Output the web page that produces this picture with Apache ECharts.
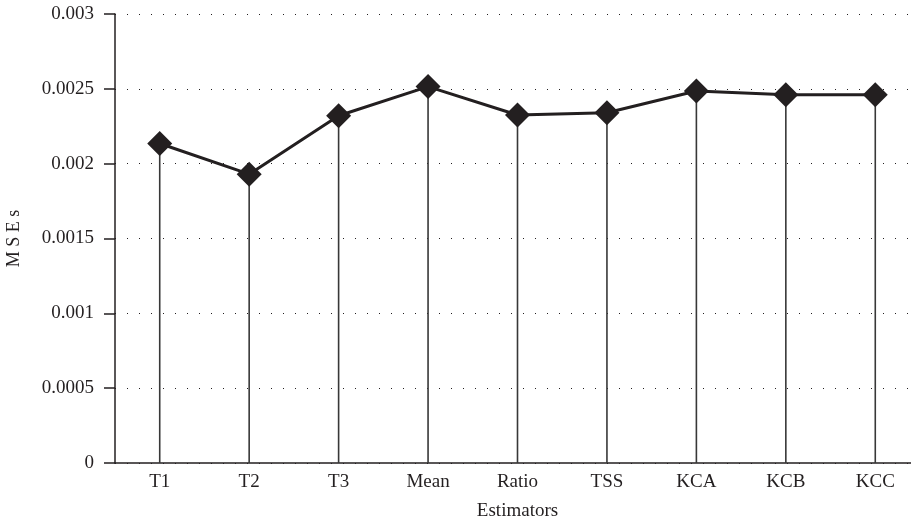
<!DOCTYPE html>
<html>
<head>
<meta charset="utf-8">
<script src="https://cdn.jsdelivr.net/npm/echarts@6/dist/echarts.min.js"></script>
<style>
html,body{margin:0;padding:0;background:#fff;}
#chart{width:911px;height:521px;}
</style>
</head>
<body>
<div id="chart"></div>
<script>
const categories = ['T1','T2','T3','Mean','Ratio','TSS','KCA','KCB','KCC'];
const mseValues = [0.002135, 0.00193, 0.00232, 0.002515, 0.002325, 0.00234, 0.002485, 0.00246, 0.00246];
const yTicks = [0, 0.0005, 0.001, 0.0015, 0.002, 0.0025, 0.003];

const FONT = '"Liberation Serif", "DejaVu Serif", serif';
const chart = echarts.init(document.getElementById('chart'));
chart.setOption({
  backgroundColor: '#fff',
  animation: false,
  textStyle: { fontFamily: FONT },
  grid: { left: 115, top: 14, width: 805, height: 449, containLabel: false, outerBoundsMode: 'none' },
  xAxis: {
    type: 'category',
    data: categories,
    boundaryGap: true,
    name: 'Estimators',
    nameLocation: 'middle',
    nameGap: 39,
    nameTextStyle: { fontFamily: FONT, fontSize: 19, color: '#231f20' },
    axisLine: { lineStyle: { color: '#231f20', width: 1.5 } },
    axisTick: { show: false },
    axisLabel: { fontFamily: FONT, fontSize: 19, color: '#231f20', margin: 10 },
    splitLine: { show: false }
  },
  yAxis: {
    type: 'value',
    min: 0,
    max: 0.003,
    interval: 0.0005,
    name: 'M S E s',
    nameLocation: 'middle',
    nameGap: 92,
    nameTextStyle: { fontFamily: FONT, fontSize: 18, color: '#231f20' },
    axisLine: { show: true, lineStyle: { color: '#231f20', width: 1.5 } },
    axisTick: { show: true, inside: false, length: 11, lineStyle: { color: '#231f20', width: 1.5 } },
    axisLabel: {
      fontFamily: FONT, fontSize: 19, color: '#231f20', margin: 21,
      formatter: function (v) {
        const t = yTicks.find(function (k) { return Math.abs(k - v) < 1e-9; });
        return t === undefined ? '' : String(t);
      }
    },
    splitLine: { show: true, lineStyle: { color: '#231f20', width: 1.2, type: [1, 11] } }
  },
  series: [
    {
      type: 'bar',
      data: mseValues,
      barWidth: 1.6,
      itemStyle: { color: '#383838' },
      silent: true,
      z: 1
    },
    {
      type: 'line',
      data: mseValues,
      symbol: 'diamond',
      symbolSize: 25,
      lineStyle: { color: '#231f20', width: 3 },
      itemStyle: { color: '#231f20' },
      z: 3
    }
  ]
});
</script>
</body>
</html>
